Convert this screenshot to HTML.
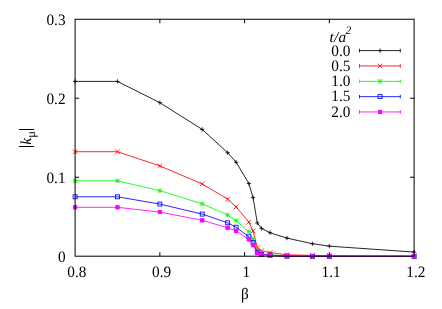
<!DOCTYPE html>
<html><head><meta charset="utf-8"><title>plot</title>
<style>
html,body{margin:0;padding:0;background:#fff;}
body{width:442px;height:309px;overflow:hidden;}
svg{display:block;will-change:transform;}
text{font-family:"Liberation Serif",serif;font-size:15.3px;fill:#000;text-rendering:geometricPrecision;}
</style></head><body>
<svg width="442" height="309" viewBox="0 0 442 309">
<rect width="442" height="309" fill="#fff"/>
<path d="M359.5 50.6H400.3M359.5 48.800000000000004V52.4M400.3 48.800000000000004V52.4" stroke="#000000" stroke-width="0.85" fill="none"/>
<path d="M378.00 50.60H382.20M380.10 48.50V52.70" stroke="#000000" stroke-width="0.85" fill="none"/>
<polyline points="75.10,81.41 117.47,81.41 159.85,102.66 202.22,129.43 227.65,152.73 236.12,162.21 248.84,183.54 253.07,197.59 257.31,222.95 261.55,228.40 270.02,232.74 286.98,238.11 312.40,243.72 329.35,246.17 414.10,252.09" fill="none" stroke="#000000" stroke-width="0.85" stroke-linejoin="round"/>
<path d="M73.00 81.41H77.20M75.10 79.31V83.51" stroke="#000000" stroke-width="0.85" fill="none"/>
<path d="M115.37 81.41H119.57M117.47 79.31V83.51" stroke="#000000" stroke-width="0.85" fill="none"/>
<path d="M157.75 102.66H161.95M159.85 100.56V104.76" stroke="#000000" stroke-width="0.85" fill="none"/>
<path d="M200.12 129.43H204.32M202.22 127.33V131.53" stroke="#000000" stroke-width="0.85" fill="none"/>
<path d="M225.55 152.73H229.75M227.65 150.63V154.83" stroke="#000000" stroke-width="0.85" fill="none"/>
<path d="M234.02 162.21H238.22M236.12 160.11V164.31" stroke="#000000" stroke-width="0.85" fill="none"/>
<path d="M246.74 183.54H250.94M248.84 181.44V185.64" stroke="#000000" stroke-width="0.85" fill="none"/>
<path d="M250.97 197.59H255.17M253.07 195.49V199.69" stroke="#000000" stroke-width="0.85" fill="none"/>
<path d="M255.21 222.95H259.41M257.31 220.85V225.05" stroke="#000000" stroke-width="0.85" fill="none"/>
<path d="M259.45 228.40H263.65M261.55 226.30V230.50" stroke="#000000" stroke-width="0.85" fill="none"/>
<path d="M267.92 232.74H272.12M270.02 230.64V234.84" stroke="#000000" stroke-width="0.85" fill="none"/>
<path d="M284.88 238.11H289.08M286.98 236.01V240.21" stroke="#000000" stroke-width="0.85" fill="none"/>
<path d="M310.30 243.72H314.50M312.40 241.62V245.82" stroke="#000000" stroke-width="0.85" fill="none"/>
<path d="M327.25 246.17H331.45M329.35 244.07V248.27" stroke="#000000" stroke-width="0.85" fill="none"/>
<path d="M412.00 252.09H416.20M414.10 249.99V254.19" stroke="#000000" stroke-width="0.85" fill="none"/>
<path d="M359.5 65.95H400.3M359.5 64.15V67.75M400.3 64.15V67.75" stroke="#ff0000" stroke-width="0.85" fill="none"/>
<path d="M377.90 63.75L382.30 68.15M377.90 68.15L382.30 63.75" stroke="#ff0000" stroke-width="0.85" fill="none"/>
<polyline points="75.10,151.71 117.47,151.71 159.85,165.92 202.22,183.93 227.65,199.17 236.12,206.84 248.84,222.00 253.07,231.00 257.31,247.83 261.55,250.83 270.02,252.57 286.98,254.78 312.40,255.41 329.35,255.81 414.10,256.20" fill="none" stroke="#ff0000" stroke-width="0.85" stroke-linejoin="round"/>
<path d="M72.90 149.51L77.30 153.91M72.90 153.91L77.30 149.51" stroke="#ff0000" stroke-width="0.85" fill="none"/>
<path d="M115.27 149.51L119.67 153.91M115.27 153.91L119.67 149.51" stroke="#ff0000" stroke-width="0.85" fill="none"/>
<path d="M157.65 163.72L162.05 168.12M157.65 168.12L162.05 163.72" stroke="#ff0000" stroke-width="0.85" fill="none"/>
<path d="M200.02 181.73L204.42 186.13M200.02 186.13L204.42 181.73" stroke="#ff0000" stroke-width="0.85" fill="none"/>
<path d="M225.45 196.97L229.85 201.37M225.45 201.37L229.85 196.97" stroke="#ff0000" stroke-width="0.85" fill="none"/>
<path d="M233.92 204.64L238.32 209.04M233.92 209.04L238.32 204.64" stroke="#ff0000" stroke-width="0.85" fill="none"/>
<path d="M246.64 219.80L251.04 224.20M246.64 224.20L251.04 219.80" stroke="#ff0000" stroke-width="0.85" fill="none"/>
<path d="M250.87 228.80L255.27 233.20M250.87 233.20L255.27 228.80" stroke="#ff0000" stroke-width="0.85" fill="none"/>
<path d="M255.11 245.63L259.51 250.03M255.11 250.03L259.51 245.63" stroke="#ff0000" stroke-width="0.85" fill="none"/>
<path d="M259.35 248.63L263.75 253.03M259.35 253.03L263.75 248.63" stroke="#ff0000" stroke-width="0.85" fill="none"/>
<path d="M267.82 250.37L272.22 254.77M267.82 254.77L272.22 250.37" stroke="#ff0000" stroke-width="0.85" fill="none"/>
<path d="M284.78 252.58L289.18 256.98M284.78 256.98L289.18 252.58" stroke="#ff0000" stroke-width="0.85" fill="none"/>
<path d="M310.20 253.21L314.60 257.61M310.20 257.61L314.60 253.21" stroke="#ff0000" stroke-width="0.85" fill="none"/>
<path d="M327.15 253.61L331.55 258.01M327.15 258.01L331.55 253.61" stroke="#ff0000" stroke-width="0.85" fill="none"/>
<path d="M411.90 254.00L416.30 258.40M411.90 258.40L416.30 254.00" stroke="#ff0000" stroke-width="0.85" fill="none"/>
<path d="M359.5 81.35H400.3M359.5 79.55V83.14999999999999M400.3 79.55V83.14999999999999" stroke="#00ff00" stroke-width="0.85" fill="none"/>
<path d="M377.90 81.35H382.30M380.10 79.15V83.55M377.90 79.15L382.30 83.55M377.90 83.55L382.30 79.15" stroke="#00ff00" stroke-width="0.85" fill="none"/>
<polyline points="75.10,180.85 117.47,180.85 159.85,190.64 202.22,203.83 227.65,214.97 236.12,220.66 248.84,231.64 253.07,238.82 257.31,251.07 261.55,253.83 270.02,254.78 286.98,256.04 312.40,256.36 329.35,256.36 414.10,256.36" fill="none" stroke="#00ff00" stroke-width="0.85" stroke-linejoin="round"/>
<path d="M72.90 180.85H77.30M75.10 178.65V183.05M72.90 178.65L77.30 183.05M72.90 183.05L77.30 178.65" stroke="#00ff00" stroke-width="0.85" fill="none"/>
<path d="M115.27 180.85H119.67M117.47 178.65V183.05M115.27 178.65L119.67 183.05M115.27 183.05L119.67 178.65" stroke="#00ff00" stroke-width="0.85" fill="none"/>
<path d="M157.65 190.64H162.05M159.85 188.44V192.84M157.65 188.44L162.05 192.84M157.65 192.84L162.05 188.44" stroke="#00ff00" stroke-width="0.85" fill="none"/>
<path d="M200.02 203.83H204.42M202.22 201.63V206.03M200.02 201.63L204.42 206.03M200.02 206.03L204.42 201.63" stroke="#00ff00" stroke-width="0.85" fill="none"/>
<path d="M225.45 214.97H229.85M227.65 212.77V217.17M225.45 212.77L229.85 217.17M225.45 217.17L229.85 212.77" stroke="#00ff00" stroke-width="0.85" fill="none"/>
<path d="M233.92 220.66H238.32M236.12 218.46V222.86M233.92 218.46L238.32 222.86M233.92 222.86L238.32 218.46" stroke="#00ff00" stroke-width="0.85" fill="none"/>
<path d="M246.64 231.64H251.04M248.84 229.44V233.84M246.64 229.44L251.04 233.84M246.64 233.84L251.04 229.44" stroke="#00ff00" stroke-width="0.85" fill="none"/>
<path d="M250.87 238.82H255.27M253.07 236.62V241.02M250.87 236.62L255.27 241.02M250.87 241.02L255.27 236.62" stroke="#00ff00" stroke-width="0.85" fill="none"/>
<path d="M255.11 251.07H259.51M257.31 248.87V253.27M255.11 248.87L259.51 253.27M255.11 253.27L259.51 248.87" stroke="#00ff00" stroke-width="0.85" fill="none"/>
<path d="M259.35 253.83H263.75M261.55 251.63V256.03M259.35 251.63L263.75 256.03M259.35 256.03L263.75 251.63" stroke="#00ff00" stroke-width="0.85" fill="none"/>
<path d="M267.82 254.78H272.22M270.02 252.58V256.98M267.82 252.58L272.22 256.98M267.82 256.98L272.22 252.58" stroke="#00ff00" stroke-width="0.85" fill="none"/>
<path d="M284.78 256.04H289.18M286.98 253.84V258.24M284.78 253.84L289.18 258.24M284.78 258.24L289.18 253.84" stroke="#00ff00" stroke-width="0.85" fill="none"/>
<path d="M310.20 256.36H314.60M312.40 254.16V258.56M310.20 254.16L314.60 258.56M310.20 258.56L314.60 254.16" stroke="#00ff00" stroke-width="0.85" fill="none"/>
<path d="M327.15 256.36H331.55M329.35 254.16V258.56M327.15 254.16L331.55 258.56M327.15 258.56L331.55 254.16" stroke="#00ff00" stroke-width="0.85" fill="none"/>
<path d="M411.90 256.36H416.30M414.10 254.16V258.56M411.90 254.16L416.30 258.56M411.90 258.56L416.30 254.16" stroke="#00ff00" stroke-width="0.85" fill="none"/>
<path d="M359.5 96.65H400.3M359.5 94.85000000000001V98.45M400.3 94.85000000000001V98.45" stroke="#0000ff" stroke-width="0.85" fill="none"/>
<rect x="378.10" y="94.65" width="4.00" height="4.00" stroke="#0000ff" stroke-width="0.85" fill="none"/>
<polyline points="75.10,196.80 117.47,196.80 159.85,204.07 202.22,214.10 227.65,222.79 236.12,227.21 248.84,236.77 253.07,242.61 257.31,252.25 261.55,254.46 270.02,255.17 286.98,256.12 312.40,256.36 329.35,256.36 414.10,256.36" fill="none" stroke="#0000ff" stroke-width="0.85" stroke-linejoin="round"/>
<rect x="73.10" y="194.80" width="4.00" height="4.00" stroke="#0000ff" stroke-width="0.85" fill="none"/>
<rect x="115.47" y="194.80" width="4.00" height="4.00" stroke="#0000ff" stroke-width="0.85" fill="none"/>
<rect x="157.85" y="202.07" width="4.00" height="4.00" stroke="#0000ff" stroke-width="0.85" fill="none"/>
<rect x="200.22" y="212.10" width="4.00" height="4.00" stroke="#0000ff" stroke-width="0.85" fill="none"/>
<rect x="225.65" y="220.79" width="4.00" height="4.00" stroke="#0000ff" stroke-width="0.85" fill="none"/>
<rect x="234.12" y="225.21" width="4.00" height="4.00" stroke="#0000ff" stroke-width="0.85" fill="none"/>
<rect x="246.84" y="234.77" width="4.00" height="4.00" stroke="#0000ff" stroke-width="0.85" fill="none"/>
<rect x="251.07" y="240.61" width="4.00" height="4.00" stroke="#0000ff" stroke-width="0.85" fill="none"/>
<rect x="255.31" y="250.25" width="4.00" height="4.00" stroke="#0000ff" stroke-width="0.85" fill="none"/>
<rect x="259.55" y="252.46" width="4.00" height="4.00" stroke="#0000ff" stroke-width="0.85" fill="none"/>
<rect x="268.02" y="253.17" width="4.00" height="4.00" stroke="#0000ff" stroke-width="0.85" fill="none"/>
<rect x="284.98" y="254.12" width="4.00" height="4.00" stroke="#0000ff" stroke-width="0.85" fill="none"/>
<rect x="310.40" y="254.36" width="4.00" height="4.00" stroke="#0000ff" stroke-width="0.85" fill="none"/>
<rect x="327.35" y="254.36" width="4.00" height="4.00" stroke="#0000ff" stroke-width="0.85" fill="none"/>
<rect x="412.10" y="254.36" width="4.00" height="4.00" stroke="#0000ff" stroke-width="0.85" fill="none"/>
<path d="M359.5 111.95H400.3M359.5 110.15V113.75M400.3 110.15V113.75" stroke="#ff00ff" stroke-width="0.85" fill="none"/>
<rect x="378.40" y="110.25" width="3.40" height="3.40" stroke="#ff00ff" stroke-width="0.85" fill="#ff00ff"/>
<polyline points="75.10,207.31 117.47,207.31 159.85,212.05 202.22,220.34 227.65,227.77 236.12,231.00 248.84,239.38 253.07,245.22 257.31,253.04 261.55,254.70 270.02,255.49 286.98,256.20 312.40,256.36 329.35,256.28 414.10,256.20" fill="none" stroke="#ff00ff" stroke-width="0.85" stroke-linejoin="round"/>
<rect x="73.40" y="205.61" width="3.40" height="3.40" stroke="#ff00ff" stroke-width="0.85" fill="#ff00ff"/>
<rect x="115.77" y="205.61" width="3.40" height="3.40" stroke="#ff00ff" stroke-width="0.85" fill="#ff00ff"/>
<rect x="158.15" y="210.35" width="3.40" height="3.40" stroke="#ff00ff" stroke-width="0.85" fill="#ff00ff"/>
<rect x="200.52" y="218.64" width="3.40" height="3.40" stroke="#ff00ff" stroke-width="0.85" fill="#ff00ff"/>
<rect x="225.95" y="226.07" width="3.40" height="3.40" stroke="#ff00ff" stroke-width="0.85" fill="#ff00ff"/>
<rect x="234.42" y="229.30" width="3.40" height="3.40" stroke="#ff00ff" stroke-width="0.85" fill="#ff00ff"/>
<rect x="247.14" y="237.68" width="3.40" height="3.40" stroke="#ff00ff" stroke-width="0.85" fill="#ff00ff"/>
<rect x="251.37" y="243.52" width="3.40" height="3.40" stroke="#ff00ff" stroke-width="0.85" fill="#ff00ff"/>
<rect x="255.61" y="251.34" width="3.40" height="3.40" stroke="#ff00ff" stroke-width="0.85" fill="#ff00ff"/>
<rect x="259.85" y="253.00" width="3.40" height="3.40" stroke="#ff00ff" stroke-width="0.85" fill="#ff00ff"/>
<rect x="268.32" y="253.79" width="3.40" height="3.40" stroke="#ff00ff" stroke-width="0.85" fill="#ff00ff"/>
<rect x="285.28" y="254.50" width="3.40" height="3.40" stroke="#ff00ff" stroke-width="0.85" fill="#ff00ff"/>
<rect x="310.70" y="254.66" width="3.40" height="3.40" stroke="#ff00ff" stroke-width="0.85" fill="#ff00ff"/>
<rect x="327.65" y="254.58" width="3.40" height="3.40" stroke="#ff00ff" stroke-width="0.85" fill="#ff00ff"/>
<rect x="412.40" y="254.50" width="3.40" height="3.40" stroke="#ff00ff" stroke-width="0.85" fill="#ff00ff"/>
<rect x="75.1" y="19.25" width="339.00" height="236.95" fill="none" stroke="#000" stroke-width="1.0"/>
<path d="M159.85 256.2V252.2M159.85 19.25V23.25M244.60 256.2V252.2M244.60 19.25V23.25M329.35 256.2V252.2M329.35 19.25V23.25M75.1 177.22H79.1M414.1 177.22H410.1M75.1 98.23H79.1M414.1 98.23H410.1" stroke="#000" stroke-width="1.0" fill="none"/>
<text transform="translate(65.60,261.65) scale(1,1.035)" text-anchor="end">0</text>
<text transform="translate(65.60,182.67) scale(1,1.035)" text-anchor="end">0.1</text>
<text transform="translate(65.60,103.68) scale(1,1.035)" text-anchor="end">0.2</text>
<text transform="translate(65.60,24.70) scale(1,1.035)" text-anchor="end">0.3</text>
<text transform="translate(76.90,277.10) scale(1,1.035)" text-anchor="middle">0.8</text>
<text transform="translate(161.65,277.10) scale(1,1.035)" text-anchor="middle">0.9</text>
<text transform="translate(246.40,277.10) scale(1,1.035)" text-anchor="middle">1</text>
<text transform="translate(331.15,277.10) scale(1,1.035)" text-anchor="middle">1.1</text>
<text transform="translate(415.90,277.10) scale(1,1.035)" text-anchor="middle">1.2</text>
<text transform="translate(245.00,299.40) scale(1,1.035)" text-anchor="middle">β</text>
<text x="329.4" y="41.6" font-style="italic" letter-spacing="0.3">t/a<tspan font-size="11.5" dx="-0.9" dy="-8.0">2</tspan></text>
<text transform="translate(350.40,55.70) scale(1,1.035)" text-anchor="end">0.0</text>
<text transform="translate(350.40,70.95) scale(1,1.035)" text-anchor="end">0.5</text>
<text transform="translate(350.40,86.20) scale(1,1.035)" text-anchor="end">1.0</text>
<text transform="translate(350.40,101.45) scale(1,1.035)" text-anchor="end">1.5</text>
<text transform="translate(350.40,116.70) scale(1,1.035)" text-anchor="end">2.0</text>
<path d="M19.0 129.5H34.1M19.0 146.5H34.1" stroke="#000" stroke-width="1.05" fill="none"/>
<text transform="translate(31.1,144.8) rotate(-90)" font-style="italic">k</text>
<text transform="translate(35.0,137.8) rotate(-90)" style="font-size:12.6px">μ</text>
</svg>
</body></html>
